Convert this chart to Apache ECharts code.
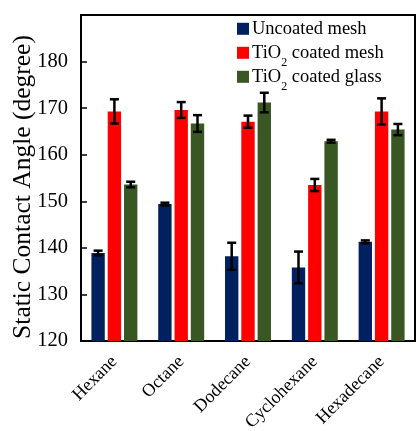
<!DOCTYPE html>
<html>
<head>
<meta charset="utf-8">
<script src="https://cdn.jsdelivr.net/npm/echarts@6/dist/echarts.min.js"></script>
<style>html,body{margin:0;padding:0;background:#fff}#c{width:418px;height:431px}</style>
</head>
<body>
<div id="c"></div>
<script>
const categories = ['Hexane', 'Octane', 'Dodecane', 'Cyclohexane', 'Hexadecane'];
const seriesNames = ['Uncoated mesh', 'TiO2 coated mesh', 'TiO2 coated glass'];
const uncoated = [138.9, 149.4, 138.2, 135.8, 141.3];
const uncoatedErr = [0.5, 0.3, 2.9, 3.4, 0.3];
const tio2Mesh = [169.3, 169.6, 167.1, 153.5, 169.3];
const tio2MeshErr = [2.6, 1.7, 1.3, 1.3, 2.8];
const tio2Glass = [153.6, 166.7, 171.2, 162.9, 165.4];
const tio2GlassErr = [0.6, 1.8, 2.1, 0.3, 1.2];
const yTicks = [120, 130, 140, 150, 160, 170, 180];

const FONT = '"Liberation Serif", "Times New Roman", serif';
const chart = echarts.init(document.getElementById('c'));

const errData = [];
[[uncoated, uncoatedErr], [tio2Mesh, tio2MeshErr], [tio2Glass, tio2GlassErr]].forEach((p, s) => {
  p[0].forEach((v, i) => errData.push([i, v, p[1][i], s]));
});

const BAR_RATIO = 0.2, GAP_RATIO = 0.22;
const LH = 32;
const legendCenters = [28.8, 52.8, 76.8];

const legends = seriesNames.map((n, i) => ({
  orient: 'vertical', left: 237, top: legendCenters[i] - LH / 2, itemWidth: 12, itemHeight: 12,
  padding: 0, icon: 'rect', data: [n],
  formatter: function (name) {
    if (name.indexOf('TiO2') === 0) return '{a|TiO}{s|2}{a|' + name.slice(4) + '}';
    return '{a|' + name + '}';
  },
  textStyle: {
    padding: [0, 0, 0, -2],
    lineHeight: LH,
    rich: {
      a: { fontFamily: FONT, fontSize: 18.5, color: '#000', lineHeight: LH, verticalAlign: 'middle' },
      s: { fontFamily: FONT, fontSize: 12, color: '#000', lineHeight: 12, padding: [20, 0, 0, 0], verticalAlign: 'top' }
    }
  }
}));

chart.setOption({
  animation: false,
  grid: { left: 81, right: 3, top: 15, bottom: 90, outerBoundsMode: 'none', containLabel: false, show: true, borderColor: '#000', borderWidth: 2, backgroundColor: 'transparent' },
  legend: legends,
  xAxis: {
    type: 'category', data: categories,
    axisLine: { lineStyle: { color: '#000', width: 2 } },
    axisTick: { show: false },
    axisLabel: { rotate: 45, fontFamily: FONT, fontSize: 18, color: '#000', margin: 18, interval: 0 }
  },
  yAxis: {
    type: 'value', min: 120, max: 190, interval: 10,
    name: 'Static Contact Angle (degree)', nameLocation: 'middle', nameGap: 45, nameMoveOverlap: false,
    nameTextStyle: { fontFamily: FONT, fontSize: 25.5, color: '#000', padding: [0, 18, 0, 0] },
    axisLine: { show: true, lineStyle: { color: '#000', width: 2 } },
    axisTick: { show: true, inside: true, length: 6, lineStyle: { color: '#000', width: 1.5 } },
    splitLine: { show: false },
    axisLabel: {
      fontFamily: FONT, fontSize: 20.5, color: '#000', margin: 13,
      formatter: v => yTicks.indexOf(v) >= 0 ? String(v) : ''
    }
  },
  series: [
    { name: seriesNames[0], type: 'bar', data: uncoated, barWidth: (BAR_RATIO * 100) + '%', barGap: (GAP_RATIO * 100) + '%', itemStyle: { color: '#002060' } },
    { name: seriesNames[1], type: 'bar', data: tio2Mesh, barWidth: (BAR_RATIO * 100) + '%', barGap: (GAP_RATIO * 100) + '%', itemStyle: { color: '#FF0000' } },
    { name: seriesNames[2], type: 'bar', data: tio2Glass, barWidth: (BAR_RATIO * 100) + '%', barGap: (GAP_RATIO * 100) + '%', itemStyle: { color: '#385723' } },
    {
      type: 'custom', data: errData, z: 10, silent: true,
      encode: { x: 0, y: 1 },
      renderItem: function (params, api) {
        const c = api.value(0), v = api.value(1), e = api.value(2), s = api.value(3);
        const band = api.size([1, 0])[0];
        const bw = band * BAR_RATIO, gap = bw * GAP_RATIO;
        const off = (s - 1) * (bw + gap);
        const t = api.coord([c, v + e]), b = api.coord([c, v - e]);
        const x = t[0] + off, hw = 4.5;
        const st = { stroke: '#000', lineWidth: 2.5 };
        return {
          type: 'group', children: [
            { type: 'line', shape: { x1: x, y1: t[1], x2: x, y2: b[1] }, style: st },
            { type: 'line', shape: { x1: x - hw, y1: t[1], x2: x + hw, y2: t[1] }, style: st },
            { type: 'line', shape: { x1: x - hw, y1: b[1], x2: x + hw, y2: b[1] }, style: st }
          ]
        };
      }
    }
  ]
});
</script>
</body>
</html>
